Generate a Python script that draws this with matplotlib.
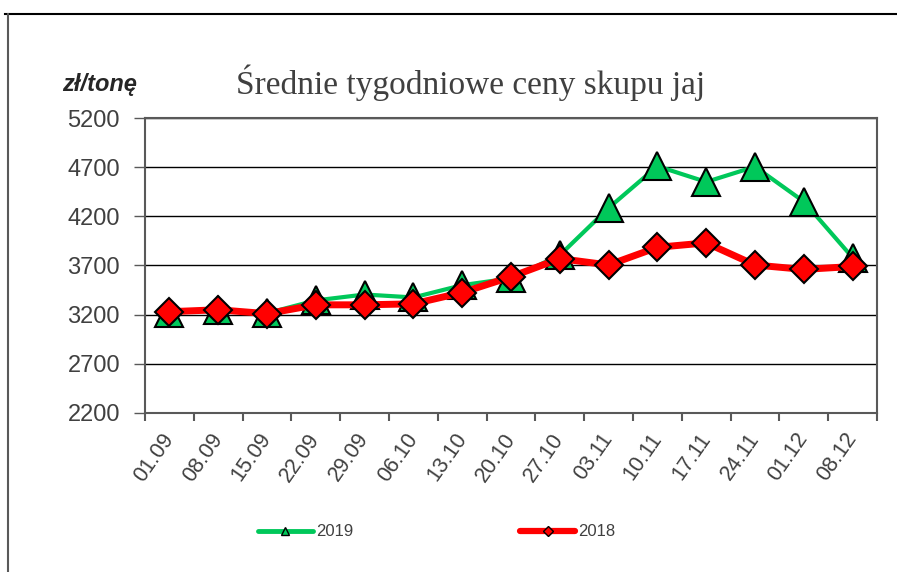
import numpy as np
import matplotlib
matplotlib.use('Agg')
import matplotlib.pyplot as plt
from matplotlib.lines import Line2D

# dati
tygodnie = ['01.09', '08.09', '15.09', '22.09', '29.09', '06.10', '13.10', '20.10',
            '27.10', '03.11', '10.11', '17.11', '24.11', '01.12', '08.12']
ceny_2019 = [3220, 3250, 3215, 3345, 3405, 3375, 3500, 3570, 3805, 4285, 4710, 4550, 4705, 4350, 3780]
ceny_2018 = [3230, 3250, 3210, 3300, 3300, 3310, 3425, 3585, 3770, 3705, 3885, 3930, 3705, 3660, 3690]
y_ticks = [2200, 2700, 3200, 3700, 4200, 4700, 5200]

zielony = '#00c85a'
czerwony = '#ff0000'
szary = '#404040'

fig = plt.figure(figsize=(8.97, 5.72), dpi=100)
ax = fig.add_axes([0.1617, 0.278, 0.816, 0.5157])

x = np.arange(len(tygodnie))
ax.plot(x, ceny_2019, color=zielony, lw=3, marker='^', ms=20, mfc=zielony,
        mec='black', mew=1.5, zorder=3)
ax.plot(x, ceny_2018, color=czerwony, lw=5, marker='D', ms=14.5, mfc=czerwony,
        mec='black', mew=1.5, zorder=4)

ax.set_xlim(-0.5, len(tygodnie) - 0.5)
ax.set_ylim(2200, 5200)
ax.set_yticks(y_ticks)
ax.set_yticklabels([str(v) for v in y_ticks], fontsize=17, color=szary,
                   family='Liberation Sans')
ax.yaxis.grid(True, color='black', lw=1)
ax.set_axisbelow(True)

# tacche tra le categorie, etichette al centro
ax.set_xticks(np.arange(len(tygodnie) + 1) - 0.5)
ax.set_xticklabels([])
ax.set_xticks(x, minor=True)
ax.set_xticklabels(tygodnie, minor=True, rotation=55, ha='right', va='center',
                   rotation_mode='anchor', fontsize=15.5, color=szary,
                   family='Liberation Sans')
ax.tick_params(axis='x', which='minor', length=0, pad=16)
ax.tick_params(axis='x', which='major', length=6, width=1.5, color='#595959', direction='out')
ax.tick_params(axis='y', length=8, width=1, color='#595959', pad=10)

for s in ax.spines.values():
    s.set_color('#595959')
    s.set_linewidth(1.5)

fig.text(0.525, 0.855, 'Średnie tygodniowe ceny skupu jaj', ha='center', va='center',
         fontsize=24, color=szary, family='Liberation Serif')
fig.text(0.111, 0.852, 'zł/tonę', ha='center', va='center', fontsize=17,
         fontweight='bold', fontstyle='italic', color='#262626', family='Liberation Sans')

uchwyty = [Line2D([], [], color=zielony, lw=3.5, marker='^', ms=6, mfc=zielony,
                  mec='black', mew=1, solid_capstyle='round'),
           Line2D([], [], color=czerwony, lw=4.5, marker='D', ms=5, mfc=czerwony,
                  mec='black', mew=1, solid_capstyle='round')]
leg = fig.legend(uchwyty, ['2019', '2018'], ncol=2, loc='center',
                 bbox_to_anchor=(0.487, 0.07), frameon=False, handlelength=3.3,
                 handletextpad=0.2, columnspacing=10, prop={'family': 'Liberation Sans', 'size': 12})
for t in leg.get_texts():
    t.set_color(szary)

# cornice esterna
fig.add_artist(Line2D([0.0056, 1], [0.9755, 0.9755], color='black', lw=1.5))
fig.add_artist(Line2D([0.0089, 0.0089], [0, 0.9755], color='#595959', lw=1.5))

fig.savefig('out.png', dpi=100)
